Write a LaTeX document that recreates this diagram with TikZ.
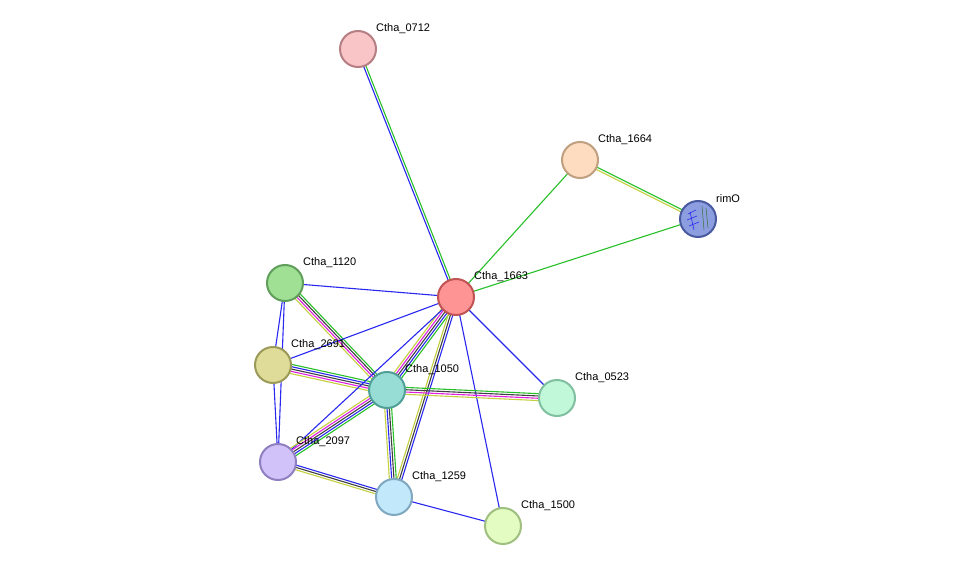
\documentclass[tikz,border=0pt]{standalone}
\usepackage{fontspec}
\setmainfont{Liberation Sans}
\usetikzlibrary{calc}
\definecolor{eb}{HTML}{2828F0}
\definecolor{eg}{HTML}{28C028}
\definecolor{ey}{HTML}{C4D040}
\definecolor{em}{HTML}{E020E0}
\definecolor{ek}{HTML}{404040}
\definecolor{f0712}{HTML}{F9C5C7}\definecolor{d0712}{HTML}{B57F84}
\definecolor{f1664}{HTML}{FDDCC0}\definecolor{d1664}{HTML}{C0A080}
\definecolor{frim}{HTML}{8C9EE0}\definecolor{drim}{HTML}{4A5AA0}
\definecolor{f1663}{HTML}{FF9494}\definecolor{d1663}{HTML}{C05454}
\definecolor{f1120}{HTML}{A0E094}\definecolor{d1120}{HTML}{609E5C}
\definecolor{f2691}{HTML}{DEDC98}\definecolor{d2691}{HTML}{9C9A58}
\definecolor{f1050}{HTML}{98DDD5}\definecolor{d1050}{HTML}{50A098}
\definecolor{f0523}{HTML}{C2F8DA}\definecolor{d0523}{HTML}{80C0A0}
\definecolor{f2097}{HTML}{D2C2FA}\definecolor{d2097}{HTML}{9080C0}
\definecolor{f1259}{HTML}{C2E8FC}\definecolor{d1259}{HTML}{80A8C0}
\definecolor{f1500}{HTML}{E2FCC2}\definecolor{d1500}{HTML}{A0C080}
\newcommand{\edg}[3]{% from, to, list of colors
  \foreach \c [count=\i] in {#3}{\xdef\nn{\i}}
  \foreach \c [count=\i] in {#3}{
    \pgfmathsetmacro{\o}{(\i-(\nn+1)/2)*2.3}
    \draw[\c,line width=1.1pt] ($(#1)!\o pt!90:(#2)$) -- ($(#2)!\o pt!-90:(#1)$);
  }}
\tikzset{
  prot/.style={circle,minimum size=36pt,inner sep=0pt,line width=2pt,fill=f#1,draw=d#1},
  lab/.style={anchor=south west,font=\fontsize{11}{13}\selectfont,inner sep=0pt}
}
\begin{document}
\begin{tikzpicture}[x=1pt,y=-1pt]
\useasboundingbox[fill=white] (0,0) rectangle (975,572);
\coordinate (p0712) at (358,49);
\coordinate (p1664) at (580,160);
\coordinate (prim) at (698,219);
\coordinate (p1663) at (456,297);
\coordinate (p1120) at (285,283);
\coordinate (p2691) at (273,365);
\coordinate (p1050) at (387,390);
\coordinate (p0523) at (557,398);
\coordinate (p2097) at (278,462);
\coordinate (p1259) at (394,497);
\coordinate (p1500) at (503,526);
\edg{p0712}{p1663}{eb,eg}
\edg{p1664}{p1663}{eg}
\edg{p1664}{prim}{ey,eg}
\edg{prim}{p1663}{eg}
\edg{p1120}{p1663}{eb}
\edg{p1120}{p2691}{eb}
\edg{p1120}{p2097}{eb}
\edg{p1120}{p1050}{ey,em,ek,eg}
\edg{p2691}{p1663}{eb}
\edg{p2691}{p1050}{ey,em,ek,eb,eg}
\edg{p2691}{p2097}{eb}
\edg{p1663}{p1050}{ey,em,ek,eb,eg}
\edg{p1663}{p2097}{eb}
\edg{p1663}{p1259}{ey,ek,eb}
\edg{p1663}{p0523}{eb}
\edg{p1663}{p1500}{eb}
\edg{p1050}{p0523}{ey,em,ek,eg}
\edg{p1050}{p2097}{ey,em,ek,eb,eg}
\edg{p1050}{p1259}{ey,eb,ek,eg}
\edg{p2097}{p1259}{ey,ek,eb}
\edg{p1259}{p1500}{eb}
\node[prot=0712] (n0712) at (p0712) {};
\node[prot=1664] (n1664) at (p1664) {};
\node[prot=rim] (nrim) at (prim) {};
\node[prot=1663] (n1663) at (p1663) {};
\node[prot=1120] (n1120) at (p1120) {};
\node[prot=2691] (n2691) at (p2691) {};
\node[prot=1050] (n1050) at (p1050) {};
\node[prot=0523] (n0523) at (p0523) {};
\node[prot=2097] (n2097) at (p2097) {};
\node[prot=1259] (n1259) at (p1259) {};
\node[prot=1500] (n1500) at (p1500) {};
\draw[eb,line width=0.6pt] (688,214) -- (696,210) (687,220) -- (697,216) (689,226) -- (699,222) (690,212) -- (694,230);
\draw[ek!60!eg,line width=0.5pt] (702,206) -- (704,230) (706,208) -- (708,228);
\node[lab] (l0712) at (376,34) {Ctha\_0712};
\node[lab] (l1664) at (598,145) {Ctha\_1664};
\node[lab] (lrim) at (716,203) {rimO};
\node[lab] (l1663) at (474,282) {Ctha\_1663};
\node[lab] (l1120) at (303,268) {Ctha\_1120};
\node[lab] (l2691) at (291,350) {Ctha\_2691};
\node[lab] (l1050) at (405,375) {Ctha\_1050};
\node[lab] (l0523) at (575,383) {Ctha\_0523};
\node[lab] (l2097) at (296,447) {Ctha\_2097};
\node[lab] (l1259) at (412,482) {Ctha\_1259};
\node[lab] (l1500) at (521,511) {Ctha\_1500};
\end{tikzpicture}
\end{document}
